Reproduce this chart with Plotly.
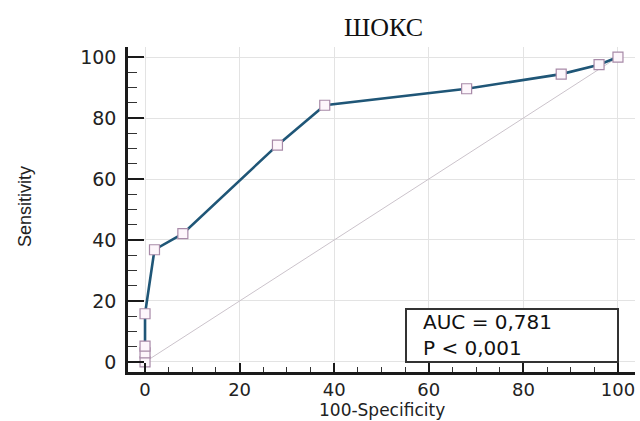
import plotly.graph_objects as go

fpr = [0, 0, 0, 0, 2, 8, 28, 38, 68, 88, 96, 100]
tpr = [0, 3, 5.2, 15.8, 36.8, 42.1, 71.1, 84.2, 89.6, 94.4, 97.5, 100]
ref_x = [0, 100]
ref_y = [0, 100]
tick_vals = [0, 20, 40, 60, 80, 100]
title_text = "ШОКС"
auc_text = "AUC = 0,781<br>P &lt; 0,001"

WIDE = "DejaVu Sans, Verdana, sans-serif"

fig = go.Figure()
fig.add_trace(go.Scatter(x=ref_x, y=ref_y, mode="lines",
                         line=dict(color="#cbc3cb", width=1), hoverinfo="skip"))
fig.add_trace(go.Scatter(x=fpr, y=tpr, mode="lines+markers",
                         line=dict(color="#1f5677", width=2.6),
                         marker=dict(symbol="square", size=10, color="#fdf6fb",
                                     line=dict(color="#a88aa8", width=1.2))))

fig.update_layout(
    width=640, height=421,
    margin=dict(l=128, r=5, t=47, b=49),
    paper_bgcolor="white", plot_bgcolor="white",
    showlegend=False,
    font=dict(family=WIDE, color="#222"),
)
fig.update_xaxes(range=[-3.6, 103.6], tickvals=tick_vals, showgrid=True,
                 gridcolor="#e3e3e3", gridwidth=1, zeroline=False,
                 showline=True, linecolor="#1a1a1a", linewidth=2.5,
                 ticks="inside", ticklen=9, tickwidth=2, tickcolor="#1a1a1a",
                 tickfont=dict(family=WIDE, size=18, color="#222"),
                 minor=dict(dtick=5, tick0=0, ticks="inside", ticklen=5,
                            tickwidth=1, tickcolor="#333", showgrid=False))
fig.update_yaxes(range=[-3.3, 103.3], tickvals=tick_vals, showgrid=True,
                 gridcolor="#e3e3e3", gridwidth=1, zeroline=False,
                 showline=True, linecolor="#1a1a1a", linewidth=2.5,
                 ticks="inside", ticklen=16, tickwidth=2, tickcolor="#1a1a1a",
                 tickfont=dict(family=WIDE, size=19, color="#222"), ticklabelstandoff=5,
                 minor=dict(dtick=5, tick0=0, ticks="inside", ticklen=9,
                            tickwidth=1, tickcolor="#333", showgrid=False))

fig.add_annotation(text=title_text, xref="paper", yref="paper",
                   x=(383 - 128) / 507, y=(372 - 27) / 325, xanchor="center", yanchor="middle",
                   showarrow=False, font=dict(family="Liberation Serif, Times New Roman, serif",
                                              size=26, color="#111"))
fig.add_annotation(text="Sensitivity", xref="paper", yref="paper",
                   x=(25 - 128) / 507, y=(372 - 207) / 325, xanchor="center", yanchor="middle",
                   textangle=-90, showarrow=False,
                   font=dict(family="Liberation Sans, Arial, sans-serif", size=18, color="#222"))
fig.add_annotation(text="100-Specificity", xref="paper", yref="paper",
                   x=(382 - 128) / 507, y=(372 - 421) / 325, xanchor="center", yanchor="bottom",
                   showarrow=False, borderpad=0, font=dict(family=WIDE, size=17, color="#222"))

fig.add_shape(type="rect", xref="paper", yref="paper",
              x0=(406 - 128) / 507, x1=(618 - 128) / 507,
              y0=(372 - 362) / 325, y1=(372 - 309) / 325,
              line=dict(color="#333", width=2), fillcolor="white", layer="above")
fig.add_annotation(text=auc_text, xref="paper", yref="paper",
                   x=(421 - 128) / 507, y=(372 - 335) / 325, xanchor="left", yanchor="middle",
                   align="left", showarrow=False, font=dict(family=WIDE, size=20, color="#111"))

fig.write_html("out.html")
